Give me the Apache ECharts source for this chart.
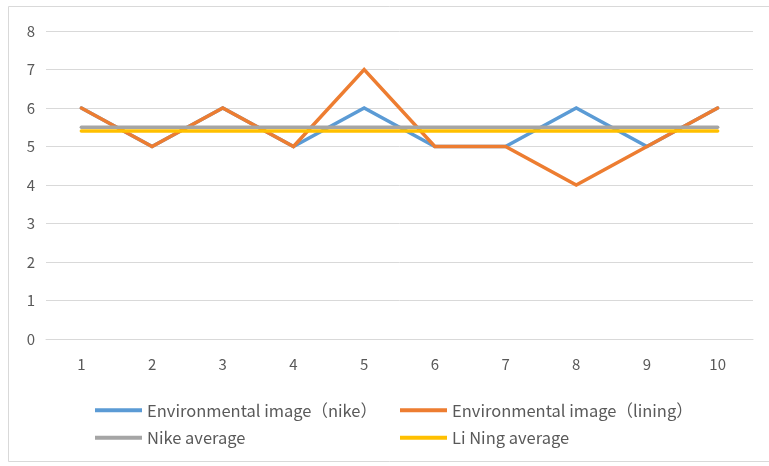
<!DOCTYPE html>
<html>
<head>
<meta charset="utf-8">
<style>
  html, body { margin: 0; padding: 0; background: #fff; }
  #chart { width: 769px; height: 466px; }
</style>
<script src="https://cdn.jsdelivr.net/npm/echarts@6/dist/echarts.min.js"></script>
</head>
<body>
<div id="chart"></div>
<script>
// Scores per respondent (1–10) and the two brand averages
const categories = ['1', '2', '3', '4', '5', '6', '7', '8', '9', '10'];
const nikeImage = [6, 5, 6, 5, 6, 5, 5, 6, 5, 6];
const liningImage = [6, 5, 6, 5, 7, 5, 5, 4, 5, 6];
const nikeAverage = [5.5, 5.5, 5.5, 5.5, 5.5, 5.5, 5.5, 5.5, 5.5, 5.5];
const liNingAverage = [5.4, 5.4, 5.4, 5.4, 5.4, 5.4, 5.4, 5.4, 5.4, 5.4];
const seriesNames = ['Environmental image（nike）', 'Environmental image（lining）', 'Nike average', 'Li Ning average'];

const font = '"Noto Sans CJK SC", sans-serif';
const textColor = '#595959';

const chart = echarts.init(document.getElementById('chart'));

function line(name, data, color, z) {
  return {
    name: name,
    type: 'line',
    data: data,
    symbol: 'none',
    z: z,
    lineStyle: { color: color, width: 3.5, cap: 'round', join: 'miter' },
    itemStyle: { color: color },
    animation: false
  };
}

const legendText = { color: textColor, fontSize: 16.5, fontFamily: font };
const legendBase = {
  orient: 'vertical',
  top: 397,
  itemWidth: 47,
  itemHeight: 4,
  itemGap: 11,
  icon: 'rect',
  textStyle: legendText
};

chart.setOption({
  backgroundColor: '#fff',
  graphic: [{
    type: 'rect',
    shape: { x: 8.5, y: 6.5, width: 770, height: 455 },
    style: { fill: 'none', stroke: '#d9d9d9', lineWidth: 1 },
    silent: true
  }],
  grid: { left: 46, right: 16, top: 31, bottom: 127 },
  xAxis: {
    type: 'category',
    data: categories,
    boundaryGap: true,
    axisLine: { show: true, lineStyle: { color: '#d9d9d9', width: 1 } },
    axisTick: { show: false },
    axisLabel: { color: textColor, fontSize: 15, fontFamily: font, margin: 18 }
  },
  yAxis: {
    type: 'value',
    min: 0,
    max: 8,
    interval: 1,
    axisLine: { show: false },
    axisTick: { show: false },
    axisLabel: { color: textColor, fontSize: 15, fontFamily: font, margin: 11 },
    splitLine: { lineStyle: { color: '#d9d9d9', width: 1 } }
  },
  legend: [
    Object.assign({ data: [seriesNames[0], seriesNames[2]], left: 90 }, legendBase),
    Object.assign({ data: [seriesNames[1], seriesNames[3]], left: 395 }, legendBase)
  ],
  series: [
    line(seriesNames[0], nikeImage, '#5B9BD5', 2),
    line(seriesNames[1], liningImage, '#ED7D31', 3),
    line(seriesNames[2], nikeAverage, '#A5A5A5', 4),
    line(seriesNames[3], liNingAverage, '#FFC000', 5)
  ]
});
</script>
</body>
</html>
